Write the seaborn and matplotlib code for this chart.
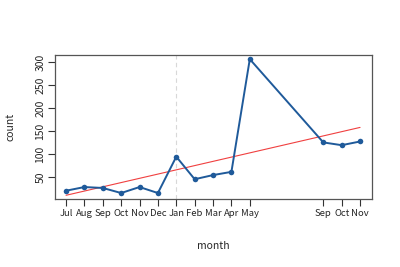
import numpy as np
import pandas as pd
import seaborn as sns
from matplotlib import pyplot as plt

# monthly counts, Jul (year 1) .. Nov (year 2); Jun-Aug of year 2 missing
month_idx = [0, 1, 2, 3, 4, 5, 6, 7, 8, 9, 10, 14, 15, 16]
month_lbl = ["Jul", "Aug", "Sep", "Oct", "Nov", "Dec", "Jan", "Feb", "Mar",
             "Apr", "May", "Sep", "Oct", "Nov"]
counts = [20, 28, 26, 15, 28, 15, 94, 45, 54, 61, 306, 125, 119, 127]
year_break = 6  # January

df = pd.DataFrame({"month": month_idx, "count": counts})

sns.set_style("white")
plt.rcParams.update({
    "font.family": ["Noto Sans CJK JP", "DejaVu Sans"],
    "font.size": 7,
    "axes.linewidth": 0.9,
    "axes.edgecolor": "#555555",
})

fig = plt.figure(figsize=(4, 2.67), dpi=100)
ax = fig.add_axes([0.1375, 0.255, 0.7925, 0.539])

ax.axvline(year_break, color="#d8d8d8", lw=0.8, ls=(0, (4, 3)), zorder=0)
sns.regplot(data=df, x="month", y="count", scatter=False, ci=None,
            color="#f04040", line_kws={"lw": 0.8}, ax=ax)
sns.lineplot(data=df, x="month", y="count", color="#1f5a9a", lw=1.4,
             marker="o", markersize=4, markeredgewidth=0, ax=ax)

ax.set_xlim(-0.6, 16.65)
ax.set_ylim(2.2, 315)
ax.set_xticks(month_idx)
ax.set_xticklabels(month_lbl)
ax.set_yticks([50, 100, 150, 200, 250, 300])
ax.set_yticklabels(["50", "100", "150", "200", "250", "300"], rotation=90, va="center")
ax.tick_params(axis="both", direction="out", length=5, width=0.8,
               color="#333333", pad=2, bottom=True, left=True)
ax.tick_params(axis="x", labelsize=6.8)
ax.tick_params(axis="y", labelsize=7.5)
ax.set_xlabel("month", fontsize=7.5, labelpad=17)
ax.set_ylabel("count", fontsize=7.5, labelpad=14)
for s in ax.spines.values():
    s.set_visible(True)

fig.savefig("out.png", dpi=100)
